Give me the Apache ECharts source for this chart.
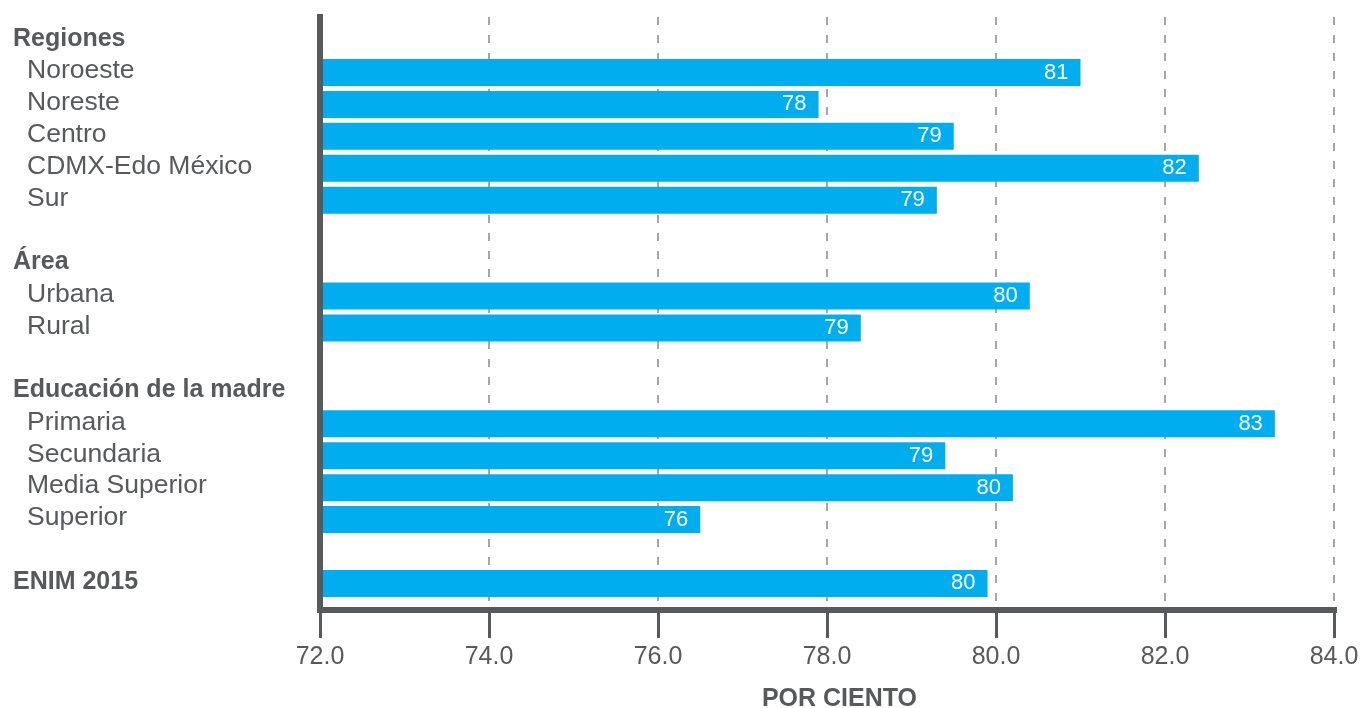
<!DOCTYPE html>
<html>
<head>
<meta charset="utf-8">
<script src="https://cdn.jsdelivr.net/npm/echarts@6/dist/echarts.min.js"></script>
<style>
  html, body { margin: 0; padding: 0; background: #ffffff; }
  #chart { width: 1361px; height: 708px; }
</style>
</head>
<body>
<div id="chart"></div>
<script>
// ---- data ----
const categories = ["Regiones", "Noroeste", "Noreste", "Centro", "CDMX-Edo México", "Sur", " ",
  "Área", "Urbana", "Rural", "  ",
  "Educación de la madre", "Primaria", "Secundaria", "Media Superior", "Superior", "   ",
  "ENIM 2015"];
const headerRows = ["Regiones", "Área", "Educación de la madre", "ENIM 2015"];
const values = [null, 81.0, 77.9, 79.5, 82.4, 79.3, null,
  null, 80.4, 78.4, null,
  null, 83.3, 79.4, 80.2, 76.5, null,
  79.9];
const valueLabels = [null, 81, 78, 79, 82, 79, null,
  null, 80, 79, null,
  null, 83, 79, 80, 76, null,
  80];
const xMin = 72, xMax = 84, xInterval = 2;
const axisName = "POR CIENTO";

// ---- chart ----
const TXT = '#58595b';
const FONT = '"Liberation Sans", Arial, Helvetica, sans-serif';
const chart = echarts.init(document.getElementById('chart'), null, { renderer: 'canvas' });

const option = {
  backgroundColor: '#ffffff',
  animation: false,
  grid: [
    { left: 320, right: 27, top: 24.6, bottom: 108.6, containLabel: false, outerBoundsMode: 'none' },
    { left: 320, right: 27, top: 17, bottom: 98, containLabel: false, outerBoundsMode: 'none' }
  ],
  xAxis: [
    { gridIndex: 0, type: 'value', min: xMin, max: xMax, interval: xInterval, show: false },
    {
      gridIndex: 1, type: 'value', min: xMin, max: xMax, interval: xInterval,
      z: 1,
      axisLine: { show: true, onZero: false, lineStyle: { color: TXT, width: 6, cap: 'square' } },
      axisTick: { show: true, length: 28, lineStyle: { color: TXT, width: 3 } },
      axisLabel: {
        show: true, margin: 35, color: TXT, fontSize: 25, fontFamily: FONT,
        formatter: v => v.toFixed(1)
      },
      splitLine: { show: true, lineStyle: { color: '#8a8a8a', width: 1.5, type: [8, 10] } },
      name: axisName, nameLocation: 'middle', nameGap: 77,
      nameTextStyle: { color: TXT, fontSize: 25, fontWeight: 'bold', fontFamily: FONT, padding: [0, 0, 0, 25] }
    }
  ],
  yAxis: [
    {
      gridIndex: 0, type: 'category', data: categories, inverse: true,
      axisLine: { show: false }, axisTick: { show: false }, splitLine: { show: false },
      axisLabel: {
        show: true, interval: 0, align: 'left', margin: 307,
        padding: [0, 0, 3, 0],
        formatter: function (v) {
          if (headerRows.indexOf(v) >= 0) return '{h|' + v + '}';
          return '{i|' + v + '}';
        },
        rich: {
          h: { color: TXT, fontSize: 25, fontWeight: 'bold', fontFamily: FONT },
          i: { color: TXT, fontSize: 26.5, fontFamily: FONT, padding: [0, 0, 0, 14] }
        }
      }
    },
    {
      gridIndex: 1, type: 'value', min: 0, max: 1, z: 10,
      axisLine: { show: true, onZero: false, lineStyle: { color: TXT, width: 6, cap: 'square' } },
      axisTick: { show: false }, axisLabel: { show: false }, splitLine: { show: false }
    }
  ],
  series: [
    {
      type: 'bar', xAxisIndex: 0, yAxisIndex: 0,
      data: values, barWidth: 27, clip: true,
      itemStyle: { color: '#00aeef' },
      label: {
        show: true, position: 'insideRight', distance: 12,
        color: '#ffffff', fontSize: 22, fontFamily: FONT,
        formatter: p => (valueLabels[p.dataIndex] == null ? '' : String(valueLabels[p.dataIndex]))
      }
    }
  ]
};
chart.setOption(option);
</script>
</body>
</html>
